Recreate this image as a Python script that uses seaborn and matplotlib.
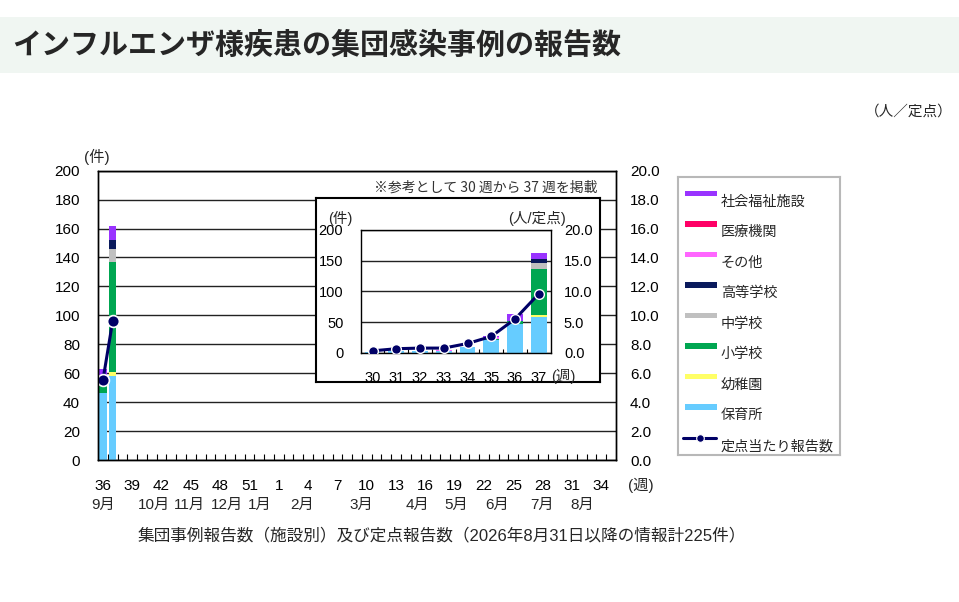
import numpy as np
import pandas as pd
import matplotlib
matplotlib.use('Agg')
import matplotlib.pyplot as plt
import seaborn as sns
from matplotlib.patches import Rectangle
from matplotlib.lines import Line2D
from matplotlib.ticker import FixedLocator

sns.set_theme(style='white')
plt.rcParams['font.family'] = ['Liberation Sans', 'Noto Sans CJK JP', 'DejaVu Sans']

# ---------------- data ----------------
categories = ['保育所', '幼稚園', '小学校', '中学校', '高等学校', 'その他', '医療機関', '社会福祉施設']
colors = ['#66ccff', '#ffff66', '#00a651', '#c0c0c0', '#0a1a5c', '#ff66ff', '#ff0066', '#9933ff']

inset_weeks = ['30', '31', '32', '33', '34', '35', '36', '37']
hoikusho = [1, 2, 2, 3, 9, 21, 46, 58]
youchien = [0, 0, 0, 0, 0, 0, 0, 3]
shogakko = [0, 0, 0, 0, 0, 2, 5, 76]
chugakko = [0, 0, 0, 0, 0, 0, 0, 9]
kotogakko = [0, 0, 0, 0, 0, 0, 0, 6]
sonota = [0, 0, 0, 1, 1, 2, 0, 0]
iryokikan = [0, 0, 0, 0, 0, 0, 0, 0]
shakaifukushi = [0, 0, 0, 0, 0, 3, 12, 10]
rate = [0.3, 0.65, 0.75, 0.75, 1.5, 2.65, 5.5, 9.6]

season_weeks = [str(w) for w in list(range(36, 54)) + list(range(1, 36))]
reported_weeks = ['36', '37']
week_tick_labels = season_weeks[::3]
month_labels = ['9月', '10月', '11月', '12月', '1月', '2月', '3月', '4月', '5月', '6月', '7月', '8月']
month_pos = [0.0, 5.2, 8.9, 12.7, 16.1, 20.4, 26.4, 32.2, 36.2, 40.3, 44.9, 49.0]

inset_df = pd.DataFrame({
    'week': inset_weeks,
    '保育所': hoikusho, '幼稚園': youchien, '小学校': shogakko, '中学校': chugakko,
    '高等学校': kotogakko, 'その他': sonota, '医療機関': iryokikan, '社会福祉施設': shakaifukushi,
    'rate': rate,
})

main_df = pd.DataFrame({'week': season_weeks})
for c in categories:
    main_df[c] = 0.0
main_df['rate'] = np.nan
for w in reported_weeks:
    src = inset_df[inset_df['week'] == w].iloc[0]
    idx = main_df.index[main_df['week'] == w][0]
    for c in categories + ['rate']:
        main_df.loc[idx, c] = src[c]

NAVY = '#000066'
W, H = 959, 602


def fx(px):
    return px / W


def fy(py):
    return 1 - py / H


def stacked(ax, df, order, width):
    cum = df[categories].cumsum(axis=1)
    for cat, col in reversed(list(zip(categories, colors))):
        sns.barplot(x=list(df['week']), y=cum[cat].values, order=order, color=col,
                    width=width, saturation=1, linewidth=0, errorbar=None, ax=ax)


fig = plt.figure(figsize=(W / 100, H / 100), dpi=100)

# title band
fig.patches.append(Rectangle((0, fy(72.7)), 1, (72.7 - 17) / H, transform=fig.transFigure,
                             facecolor='#f0f6f2', edgecolor='none', zorder=0))
fig.text(fx(12), fy(45), 'インフルエンザ様疾患の集団感染事例の報告数', fontsize=20.9,
         fontweight='bold', family=['Noto Sans CJK JP'], va='center', ha='left')
fig.text(fx(953), fy(112), '（人／定点）', fontsize=10.5, ha='right', va='center')

# ---------------- main chart ----------------
ax = fig.add_axes([fx(98), fy(460), 518 / W, 289.3 / H])
stacked(ax, main_df, season_weeks, 0.75)
ax.set_xlim(-0.5, len(season_weeks) - 0.5)
ax.set_ylim(0, 200)
ax.set_yticks(range(0, 201, 20))
ax.set_axisbelow(True)
ax.yaxis.grid(True, color='#222222', lw=1)
ax.xaxis.grid(False)
ax.set_xlabel('')
ax.set_ylabel('')
ax.set_xticks(range(0, len(season_weeks), 3))
ax.set_xticklabels(week_tick_labels)
ax.tick_params(axis='x', which='major', length=0, pad=13.5, labelsize=11, colors='black')
ax.tick_params(axis='y', length=0, pad=13, labelsize=11, colors='black')
ax.xaxis.set_minor_locator(FixedLocator(np.arange(0.5, len(season_weeks) - 1, 1)))
ax.tick_params(axis='x', which='minor', direction='in', length=4, bottom=True, color='black', width=0.8)
for s in ax.spines.values():
    s.set_color('black')
    s.set_linewidth(1)
for lab, pos in zip(month_labels, month_pos):
    ax.text(pos, -45 / 289.3, lab, transform=ax.get_xaxis_transform(), ha='center',
            va='center', fontsize=11)
fig.text(fx(641), fy(485), '(週)', ha='center', va='center', fontsize=11)
fig.text(fx(97), fy(157), '(件)', ha='center', va='center', fontsize=11)

ax2 = ax.twinx()
ld = main_df.dropna(subset=['rate'])
pos = [season_weeks.index(w) for w in ld['week']]
sns.lineplot(x=pos, y=ld['rate'].values, ax=ax2, color=NAVY, lw=2.2, marker='o',
             markersize=8.5, markerfacecolor=NAVY, markeredgecolor='white', markeredgewidth=1.2)
ax2.set_xlim(-0.5, len(season_weeks) - 0.5)
ax2.set_ylim(0, 20)
ax2.set_yticks(np.arange(0, 20.1, 2))
ax2.set_yticklabels([f'{v:.1f}' for v in np.arange(0, 20.1, 2)])
ax2.tick_params(axis='y', length=0, pad=10, labelsize=11, colors='black')
ax2.grid(False)
ax2.set_ylabel('')
for s in ax2.spines.values():
    s.set_color('black')
    s.set_linewidth(1)

# ---------------- inset ----------------
box = fig.add_axes([fx(316), fy(382), 284 / W, 184 / H])
box.set_zorder(5)
box.set_facecolor('white')
box.set_xticks([])
box.set_yticks([])
for s in box.spines.values():
    s.set_color('black')
    s.set_linewidth(1.5)

fig.text(fx(597), fy(188), '※参考として 30 週から 37 週を掲載', ha='right', va='center',
         fontsize=10, family=['Noto Sans CJK JP'], color='#333333', zorder=10)

iax = fig.add_axes([fx(360.7), fy(352.7), 190 / W, 122.7 / H])
iax.set_zorder(6)
stacked(iax, inset_df, inset_weeks, 0.66)
iax.set_xlim(-0.5, len(inset_weeks) - 0.5)
iax.set_ylim(0, 200)
iax.set_yticks(range(0, 201, 50))
iax.set_axisbelow(True)
iax.yaxis.grid(True, color='#222222', lw=1)
iax.xaxis.grid(False)
iax.set_xlabel('')
iax.set_ylabel('')
iax.tick_params(axis='x', which='major', length=0, pad=13.5, labelsize=10.5, colors='black')
iax.tick_params(axis='y', length=0, pad=12.5, labelsize=10.5, colors='black')
iax.xaxis.set_minor_locator(FixedLocator(np.arange(0.5, len(inset_weeks) - 1, 1)))
iax.tick_params(axis='x', which='minor', direction='in', length=3, bottom=True, color='black', width=0.8)
for s in iax.spines.values():
    s.set_color('black')
    s.set_linewidth(1)

iax2 = iax.twinx()
sns.lineplot(x=list(range(len(inset_weeks))), y=inset_df['rate'].values, ax=iax2, color=NAVY,
             lw=2.2, marker='o', markersize=7, markerfacecolor=NAVY, markeredgecolor='white',
             markeredgewidth=1.0)
iax2.set_xlim(-0.5, len(inset_weeks) - 0.5)
iax2.set_ylim(0, 20)
iax2.set_yticks(np.arange(0, 20.1, 5))
iax2.set_yticklabels([f'{v:.1f}' for v in np.arange(0, 20.1, 5)])
iax2.tick_params(axis='y', length=0, pad=9.5, labelsize=10.5, colors='black')
iax2.grid(False)
iax2.set_ylabel('')
for s in iax2.spines.values():
    s.set_visible(False)

fig.text(fx(340), fy(218), '(件)', ha='center', va='center', fontsize=10.5, zorder=10)
fig.text(fx(537), fy(218), '(人/定点)', ha='center', va='center', fontsize=10.5, zorder=10)
fig.text(fx(563), fy(376.7), '(週)', ha='center', va='center', fontsize=10.5, zorder=10)

# ---------------- legend ----------------
lax = fig.add_axes([fx(678), fy(455), 162 / W, 277.7 / H])
lax.set_xlim(0, 162)
lax.set_ylim(277.7, 0)
lax.set_xticks([])
lax.set_yticks([])
lax.set_facecolor('white')
for s in lax.spines.values():
    s.set_color('#b8b8b8')
    s.set_linewidth(1.5)
legend_items = list(zip(categories, colors))[::-1]
for i, (lab, col) in enumerate(legend_items):
    top = 13.4 + i * 30.5
    lax.add_patch(Rectangle((7, top), 31.7, 5.5, facecolor=col, edgecolor='none'))
    lax.text(42.7, top + 11, lab, ha='left', va='center', fontsize=10.2)
ly = 13.4 + 8 * 30.5 + 3
lax.add_line(Line2D([5, 38], [ly, ly], color=NAVY, lw=2.2, marker=None))
lax.plot([21.5], [ly], marker='o', color=NAVY, markersize=5.5, markeredgecolor='white', markeredgewidth=0.8)
lax.text(42.7, ly + 8.5, '定点当たり報告数', ha='left', va='center', fontsize=10.2)

fig.text(fx(442), fy(535), '集団事例報告数（施設別）及び定点報告数（2026年8月31日以降の情報計225件）',
         ha='center', va='center', fontsize=12)

fig.savefig('out.png', dpi=100)
